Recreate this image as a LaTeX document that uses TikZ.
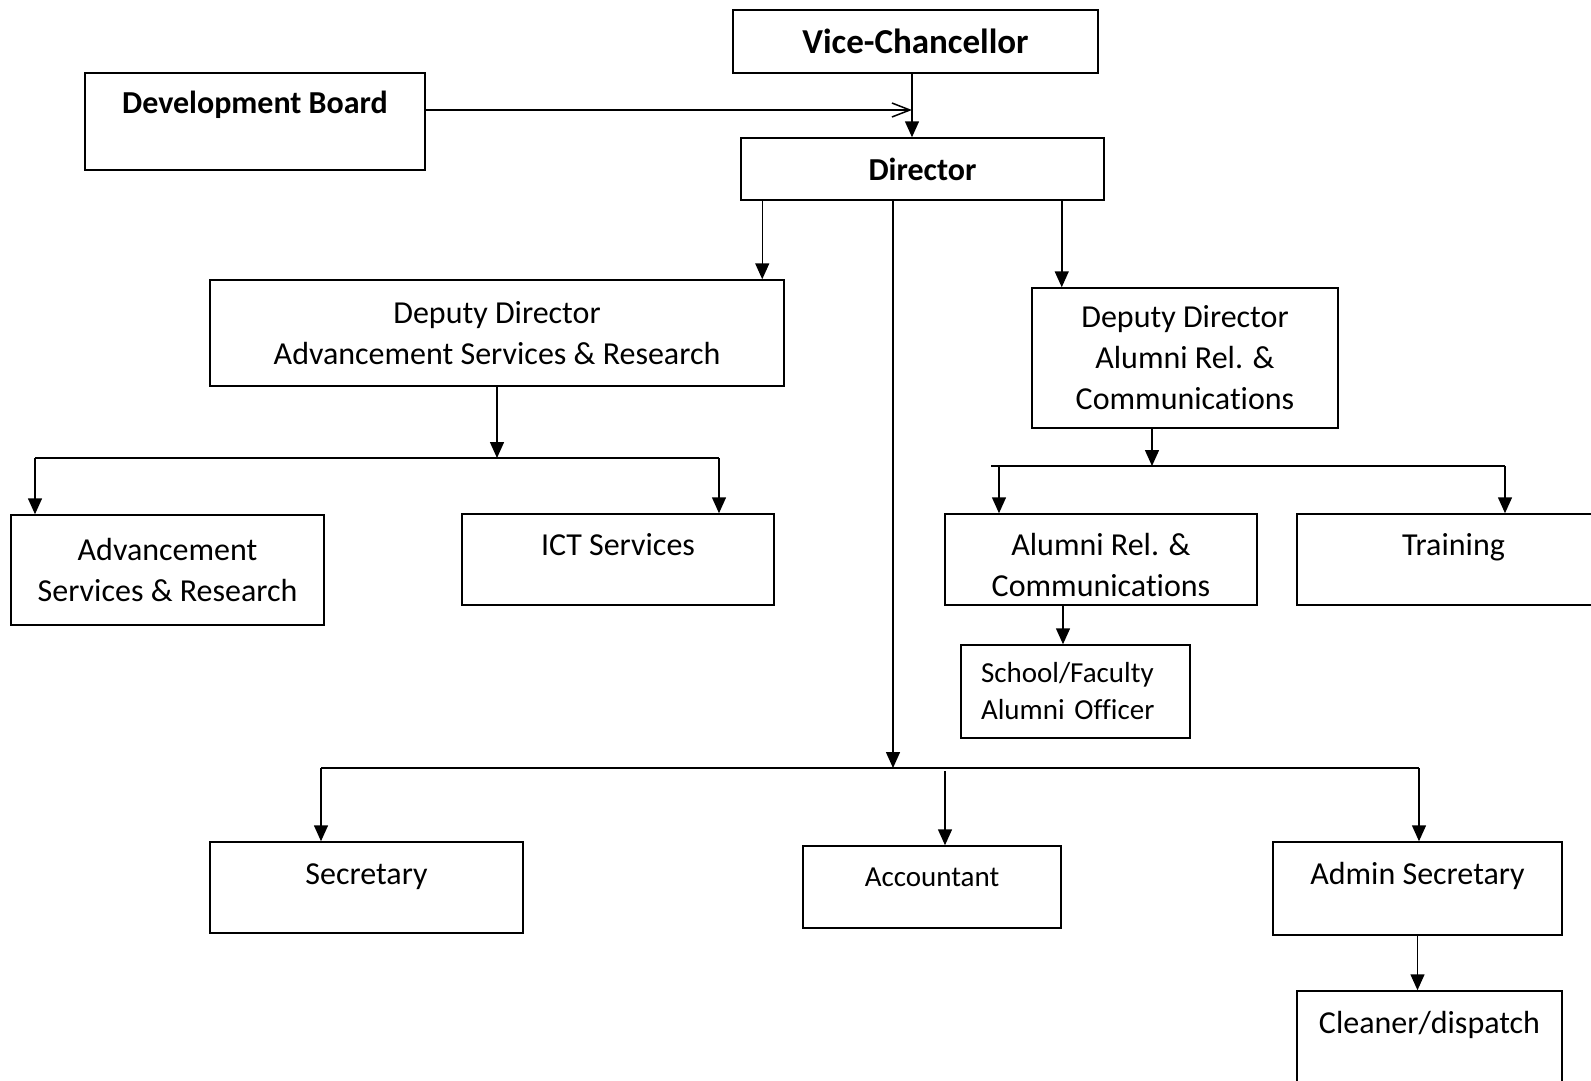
\documentclass[tikz,border=0pt]{standalone}
\usepackage{fontspec}
\setmainfont{Carlito}[Ligatures=NoCommon]
\usetikzlibrary{arrows.meta}

\begin{document}
\begin{tikzpicture}[x=1pt,y=-1pt,
    box/.style={draw,line width=1.5pt,inner sep=0pt,align=center,font=\fontsize{32}{41}\selectfont},
    bold/.style={font=\fontsize{32}{41}\selectfont\bfseries},
    small/.style={font=\fontsize{29}{37}\selectfont},
    txttop/.style 2 args={text height=#1,text depth=#2},
    line/.style={line width=1.5pt},
    arr/.style={line width=1.5pt,-{Triangle[length=16pt,width=14pt]}},
    open/.style={line width=1.5pt,-{Straight Barb[length=18pt,width=14pt]}}]

    \useasboundingbox (0,0) rectangle (1591,1080);

    \node[box,bold,font=\fontsize{35}{41}\selectfont\bfseries,minimum width=365pt,minimum height=63pt] (VC) at (915.5,41.5) {Vice-Chancellor};
    \node[box,bold,minimum width=340pt,minimum height=97pt,txttop={40pt}{57pt}] (DB) at (255,121.5) {Development Board};
    \node[box,bold,minimum width=363pt,minimum height=62pt] (D) at (922.5,169) {Director};

    \node[box,minimum width=574pt,minimum height=106pt] (DA) at (497,333) {Deputy Director\\Advancement Services \& Research};
    \node[box,minimum width=306pt,minimum height=140pt] (DR) at (1185,358) {Deputy Director\\Alumni Rel. \&\\Communications};

    \node[box,minimum width=313pt,minimum height=110pt] (ASR) at (167.5,570) {Advancement\\Services \& Research};
    \node[box,minimum width=312pt,minimum height=91pt,txttop={41pt}{50pt}] (ICT) at (618,559.5) {ICT Services};
    \node[box,minimum width=312pt,minimum height=91pt,txttop={82pt}{9pt}] (ARC) at (1101,559.5) {Alumni Rel. \&\\Communications};
    \node[box,minimum width=313pt,minimum height=91pt,txttop={41pt}{50pt}] (TR) at (1453.5,559.5) {Training};
    \node[box,small,align=left,text width=189pt,minimum width=229pt,minimum height=93pt] (SFA) at (1075.5,691.5) {School/Faculty\\Alumni Officer};

    \node[box,minimum width=313pt,minimum height=91pt,txttop={42pt}{49pt}] (SEC) at (366.5,887.5) {Secretary};
    \node[box,small,minimum width=258pt,minimum height=82pt,txttop={40.5pt}{41.5pt}] (ACC) at (932,887) {Accountant};
    \node[box,minimum width=289pt,minimum height=93pt,txttop={42pt}{51pt}] (ADM) at (1417.5,888.5) {Admin Secretary};
    \node[box,minimum width=265pt,minimum height=109pt,txttop={42pt}{67pt}] (CLN) at (1429.5,1045.5) {Cleaner/dispatch};

    % top
    \coordinate (vcx) at ([xshift=-3.5pt]VC.south);
    \draw[arr] (vcx) -- (vcx |- D.north);
    \coordinate (db) at ([yshift=11.5pt]DB.east);
    \draw[open] (db) -- (db -| vcx);

    % director
    \coordinate (d1) at ([xshift=22pt]D.south west);
    \coordinate (d2) at ([xshift=-29.5pt]D.south);
    \coordinate (d3) at ([xshift=-43pt]D.south east);
    \draw[arr] (d1) -- (d1 |- DA.north);
    \draw[arr] (d3) -- (d3 |- DR.north);

    % advancement services
    \coordinate (b1) at (497,458);
    \coordinate (b1l) at (35,458);
    \coordinate (b1r) at (719,458);
    \draw[arr] (DA) -- (b1);
    \draw[line] (b1l) -- (b1r);
    \draw[arr] (b1l) -- (b1l |- ASR.north);
    \draw[arr] (b1r) -- (b1r |- ICT.north);

    % alumni relations
    \coordinate (b2) at (1152,466);
    \coordinate (b2l) at (991,466);
    \coordinate (b2a) at (999,466);
    \coordinate (b2r) at (1505,466);
    \draw[arr] (b2 |- DR.south) -- (b2);
    \draw[line] (b2l) -- (b2r);
    \draw[arr] (b2a) -- (b2a |- ARC.north);
    \draw[arr] (b2r) -- (b2r |- TR.north);
    \coordinate (a1) at ([xshift=-38pt]ARC.south);
    \draw[arr] (a1) -- (a1 |- SFA.north);

    % office staff
    \coordinate (b3) at (d2 |- 0,768);
    \coordinate (b3l) at (321,768);
    \coordinate (b3m) at (945,771);
    \coordinate (b3r) at (1419,768);
    \draw[arr] (d2) -- (b3);
    \draw[line] (b3l) -- (b3r);
    \draw[arr] (b3l) -- (b3l |- SEC.north);
    \draw[arr] (b3m) -- (b3m |- ACC.north);
    \draw[arr] (b3r) -- (b3r |- ADM.north);
    \draw[arr] (ADM.south) -- (ADM.south |- CLN.north);

\end{tikzpicture}
\end{document}
